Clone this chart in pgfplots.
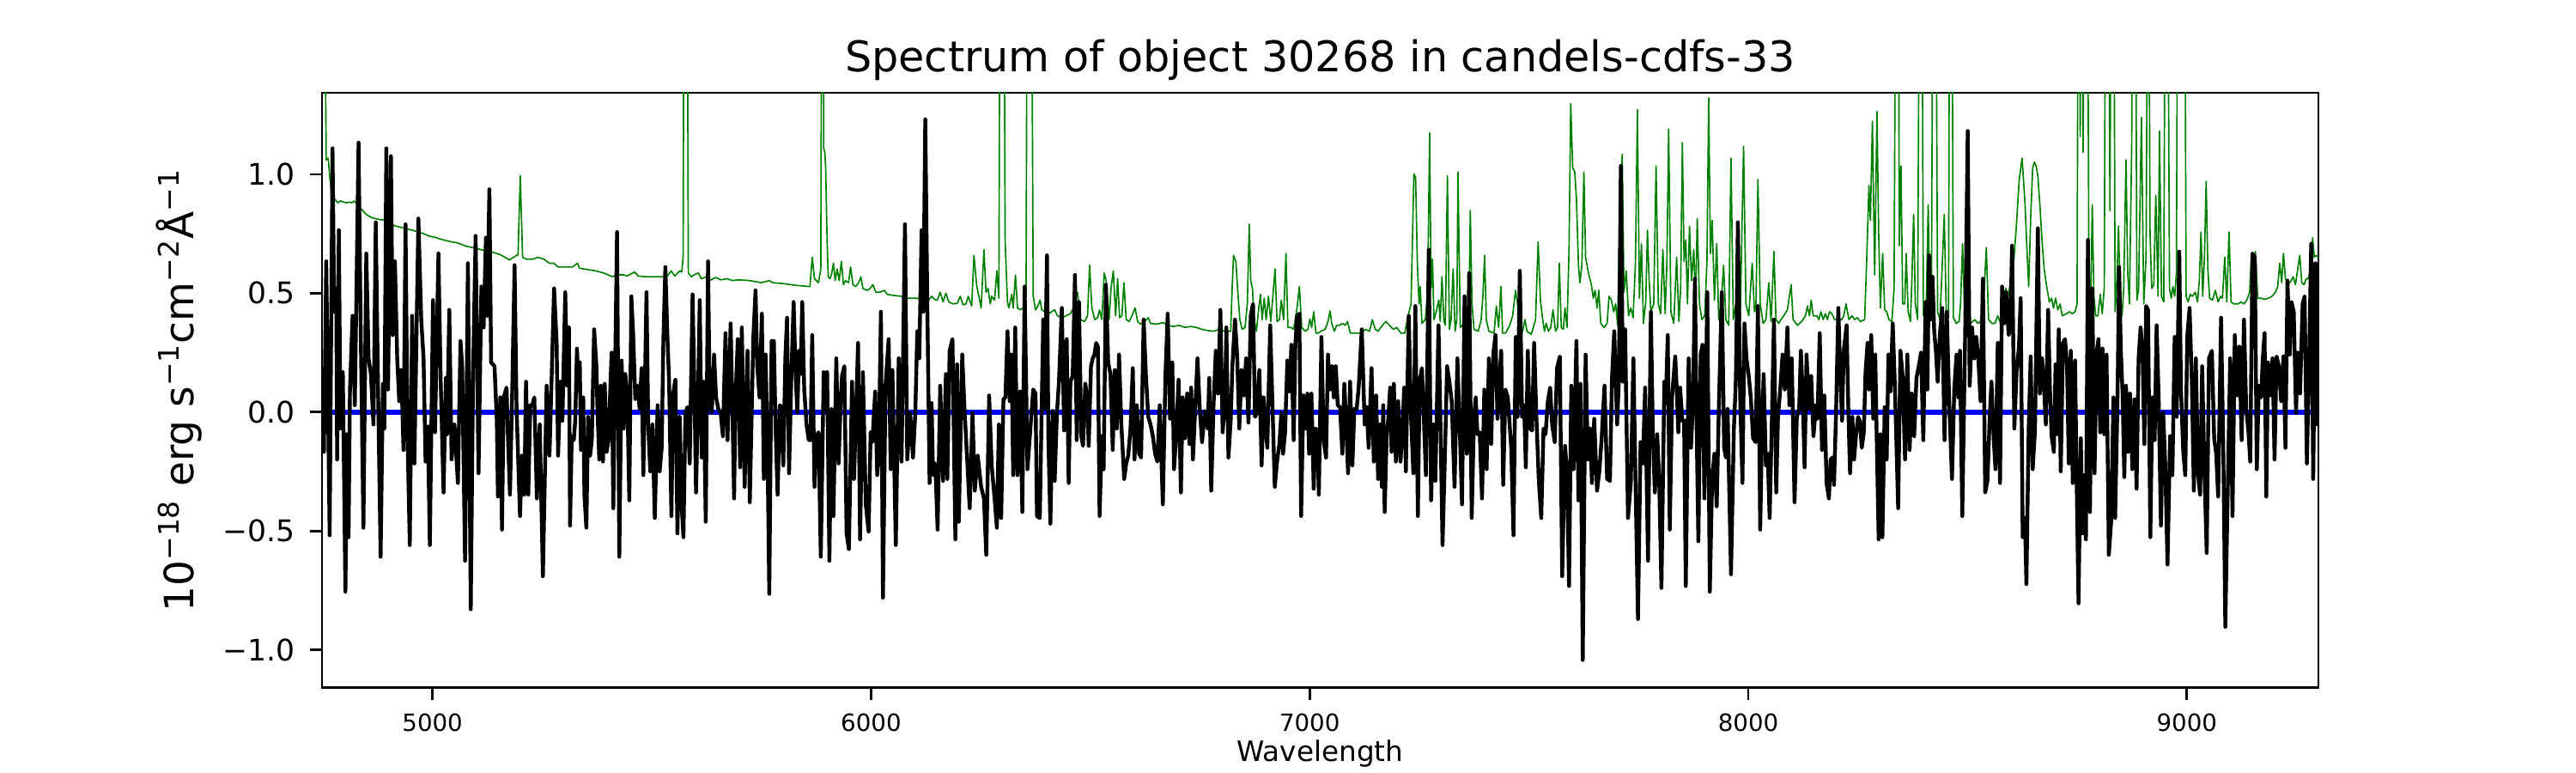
\documentclass[border=0pt]{standalone}
\usepackage{fontspec}
\setmainfont{DejaVu Sans}
\usepackage{pgfplots}
\usepackage{pgfplotstable}
\pgfplotsset{compat=1.18}
\definecolor{mplgreen}{HTML}{008000}
\definecolor{mplblue}{HTML}{0000FF}

\pgfplotstableread{
lam f
4750.5 0.00
4752.6 -0.167
4757.8 0.634
4765.6 -0.518
4772.1 1.109
4776.0 0.422
4780.6 0.520
4782.6 -0.199
4786.5 0.765
4790.3 -0.069
4795.6 0.168
4801.5 -0.755
4805.4 -0.093
4808.7 -0.526
4811.9 0.095
4817.8 0.405
4823.0 0.029
4831.5 1.133
4836.1 0.389
4842.6 -0.486
4849.1 0.667
4854.4 0.226
4859.6 0.160
4865.5 -0.052
4870.7 0.798
4875.2 0.193
4881.8 -0.608
4887.0 0.119
4890.3 -0.069
4894.8 1.109
4898.7 0.095
4905.3 1.076
4909.2 0.324
4914.4 0.634
4919.6 0.226
4924.2 0.046
4928.8 0.177
4934.0 -0.159
4938.6 0.790
4943.1 -0.101
4948.3 -0.559
4953.6 0.405
4958.8 -0.216
4967.9 0.814
4974.4 0.389
4979.7 0.226
4984.2 -0.208
4989.5 -0.060
4994.0 -0.559
5001.2 0.471
5005.8 -0.085
5013.6 0.667
5018.8 0.128
5025.3 -0.338
5030.6 0.144
5033.2 -0.093
5038.4 0.430
5043.6 -0.199
5050.1 -0.052
5058.0 -0.298
5063.9 0.299
5067.8 0.193
5074.3 -0.625
5080.8 0.626
5087.3 -0.829
5092.6 0.168
5098.4 0.741
5105.0 -0.257
5111.5 0.528
5116.7 0.356
5121.9 0.733
5124.5 0.405
5129.8 0.937
5133.7 0.209
5141.5 0.193
5146.7 -0.036
5149.3 -0.355
5154.6 0.062
5158.5 -0.494
5162.4 0.062
5168.9 0.103
5172.2 -0.110
5176.7 -0.347
5182.0 0.103
5187.2 0.618
5191.8 0.013
5199.6 -0.437
5204.2 -0.183
5209.4 -0.347
5213.3 0.128
5218.5 -0.347
5223.1 0.029
5227.6 0.029
5232.2 0.062
5238.1 -0.363
5244.6 -0.052
5251.8 -0.690
5260.3 0.111
5266.8 -0.183
5277.3 0.520
5283.1 0.291
5286.4 -0.183
5291.6 0.128
5296.2 -0.036
5302.7 0.504
5307.3 0.111
5311.2 0.356
5313.7 -0.477
5317.6 -0.101
5322.2 -0.118
5325.5 -0.036
5329.4 0.267
5333.3 0.095
5335.9 0.209
5338.5 -0.159
5343.8 0.062
5346.4 -0.347
5350.9 -0.486
5354.8 -0.020
5359.4 -0.183
5363.3 -0.118
5368.6 0.348
5373.8 0.193
5376.4 -0.003
5380.3 -0.199
5384.2 0.111
5388.8 -0.208
5392.7 0.119
5397.3 -0.167
5401.2 -0.118
5405.1 0.078
5408.4 0.250
5412.3 -0.404
5416.8 0.226
5420.8 0.757
5426.0 -0.608
5431.2 0.217
5435.8 -0.069
5439.7 0.160
5444.2 0.078
5448.8 -0.371
5453.4 0.487
5457.3 0.340
5462.5 0.054
5467.7 0.111
5472.3 0.013
5476.9 0.185
5480.8 -0.265
5488.0 0.504
5491.9 -0.052
5496.5 -0.249
5501.7 -0.052
5506.9 -0.445
5513.4 0.029
5518.0 -0.249
5522.6 -0.150
5526.5 0.307
5531.0 0.610
5535.6 0.324
5539.5 0.128
5544.8 -0.437
5548.7 0.078
5553.9 0.136
5558.5 -0.510
5563.7 -0.020
5568.3 -0.396
5572.2 -0.526
5576.7 -0.003
5581.3 0.021
5586.5 -0.216
5593.0 0.495
5597.6 0.062
5600.9 -0.338
5604.8 -0.003
5609.4 0.471
5613.9 -0.191
5617.8 0.128
5623.1 -0.461
5628.3 0.634
5632.2 0.029
5636.8 -0.003
5642.0 0.242
5646.6 0.062
5651.8 0.013
5657.0 -0.003
5662.2 -0.101
5668.1 0.332
5672.7 -0.118
5679.8 0.373
5684.4 -0.036
5687.7 -0.363
5690.9 0.062
5696.2 0.307
5701.4 -0.232
5705.3 0.356
5711.8 -0.314
5718.3 0.258
5723.5 -0.379
5731.4 0.307
5736.6 0.512
5740.5 0.193
5745.7 0.062
5751.0 0.414
5755.5 -0.281
5759.5 0.242
5763.4 -0.093
5767.9 -0.764
5773.2 0.299
5778.4 0.299
5782.3 -0.069
5786.9 -0.347
5792.1 0.029
5795.4 0.021
5799.9 -0.224
5804.5 0.226
5808.4 0.397
5813.0 -0.257
5818.2 0.144
5823.4 0.463
5828.0 0.160
5831.9 -0.003
5835.8 0.258
5839.7 0.160
5843.0 0.463
5847.6 0.095
5852.8 -0.052
5858.0 -0.118
5861.9 -0.118
5865.8 0.324
5871.0 -0.314
5875.0 -0.101
5880.2 -0.085
5885.4 -0.608
5892.0 0.168
5896.5 0.013
5899.8 0.168
5905.0 -0.625
5909.6 0.013
5914.2 -0.437
5920.7 0.226
5925.9 -0.216
5931.1 0.062
5933.7 0.152
5939.0 0.193
5944.2 -0.510
5949.4 -0.576
5956.6 0.128
5961.1 -0.281
5965.1 -0.036
5970.3 0.291
5974.9 -0.535
5981.4 0.168
5987.9 -0.388
5994.4 -0.502
5999.0 -0.085
6002.9 -0.126
6009.4 0.087
6014.0 -0.265
6017.3 -0.183
6022.5 0.422
6027.1 -0.780
6032.9 0.111
6040.1 0.307
6044.7 -0.240
6048.6 0.177
6056.4 -0.559
6063.0 0.226
6069.5 -0.208
6077.3 0.790
6082.5 -0.199
6089.1 -0.003
6095.6 -0.191
6100.8 -0.003
6105.4 0.340
6109.9 0.226
6115.2 0.765
6119.1 0.422
6123.6 1.231
6128.2 0.455
6133.4 -0.298
6138.0 0.038
6141.3 -0.265
6146.5 -0.216
6151.7 -0.494
6157.6 0.111
6164.1 -0.289
6170.6 0.160
6173.9 -0.281
6179.1 0.258
6185.6 0.307
6192.2 -0.535
6196.1 0.201
6200.0 -0.461
6207.8 0.242
6213.0 0.013
6219.6 -0.216
6224.8 -0.404
6231.3 -0.003
6236.5 -0.330
6243.1 -0.183
6250.9 -0.314
6257.4 -0.363
6262.6 -0.600
6269.2 0.070
6275.0 -0.224
6281.6 -0.363
6286.8 -0.486
6291.4 -0.052
6296.6 -0.445
6301.8 0.054
6306.4 0.062
6311.0 0.340
6316.2 0.046
6320.1 0.242
6324.0 -0.265
6328.6 0.356
6333.8 -0.265
6339.7 0.087
6344.9 -0.420
6350.1 0.528
6356.6 -0.240
6363.2 -0.069
6369.7 0.095
6374.9 0.078
6378.2 -0.437
6384.7 -0.445
6392.5 0.389
6395.8 0.013
6401.0 0.659
6404.3 -0.118
6408.8 -0.469
6414.1 0.005
6418.6 -0.289
6423.8 -0.003
6428.4 0.128
6434.9 0.438
6440.1 -0.077
6446.0 0.307
6450.5 -0.298
6454.5 0.128
6459.7 0.152
6464.9 0.577
6468.8 -0.118
6474.0 0.463
6479.3 -0.101
6483.2 -0.142
6488.4 0.119
6492.3 0.070
6496.2 -0.142
6501.4 0.193
6505.4 0.226
6509.3 0.242
6513.2 0.291
6517.1 0.275
6521.0 -0.437
6526.2 -0.101
6530.2 -0.240
6535.4 0.536
6540.6 0.209
6545.8 0.160
6551.0 -0.159
6555.6 0.177
6560.2 -0.069
6565.4 0.242
6570.6 -0.052
6577.1 -0.281
6581.7 -0.216
6586.3 -0.183
6591.5 -0.069
6596.7 0.185
6600.6 -0.199
6605.9 0.029
6611.1 -0.175
6615.6 -0.191
6621.5 0.389
6626.7 0.152
6632.0 -0.020
6637.2 -0.052
6642.4 -0.101
6647.6 -0.175
6652.8 -0.208
6658.1 0.029
6665.2 -0.388
6671.1 0.152
6676.3 0.414
6681.6 -0.028
6686.8 0.209
6690.7 -0.240
6695.9 -0.093
6701.1 0.136
6706.4 -0.338
6710.3 0.062
6715.5 -0.110
6720.7 0.078
6725.9 -0.134
6729.8 0.103
6733.8 -0.199
6739.0 0.013
6744.2 0.226
6749.4 0.013
6754.6 -0.126
6761.2 0.005
6767.7 -0.069
6771.0 0.144
6775.5 -0.330
6780.8 0.029
6786.0 0.258
6791.2 0.078
6796.4 0.430
6801.6 -0.085
6806.9 0.046
6810.1 0.356
6814.7 -0.191
6819.9 -0.036
6823.8 0.193
6829.7 0.389
6834.9 0.226
6839.5 -0.069
6844.7 0.177
6849.9 0.070
6855.1 0.226
6860.4 -0.044
6865.6 0.405
6870.8 0.455
6875.4 -0.020
6879.9 -0.003
6885.2 0.177
6890.4 -0.224
6894.9 0.062
6899.5 -0.069
6903.4 -0.150
6910.0 0.365
6915.2 0.029
6920.4 -0.314
6925.6 -0.208
6930.9 -0.134
6935.4 -0.003
6939.3 -0.175
6943.9 -0.085
6949.1 0.217
6954.3 0.087
6958.3 0.283
6963.5 -0.118
6967.4 0.283
6971.3 0.405
6976.5 0.414
6980.5 -0.437
6985.7 0.070
6990.9 -0.069
6994.8 0.078
6998.7 -0.175
7004.0 0.078
7009.2 -0.322
7013.1 -0.069
7017.0 -0.077
7020.9 -0.347
7026.8 0.316
7032.0 -0.118
7037.3 -0.191
7041.8 0.242
7045.7 0.095
7051.0 0.193
7054.9 0.062
7059.5 0.193
7064.0 0.029
7069.2 0.021
7074.5 -0.175
7079.0 0.119
7082.9 -0.036
7087.5 -0.257
7092.1 0.128
7097.3 -0.224
7101.9 0.013
7107.1 0.013
7111.7 0.103
7118.8 0.348
7125.4 -0.052
7129.9 0.021
7134.5 -0.150
7141.0 0.185
7146.2 -0.208
7151.5 0.070
7156.0 -0.281
7160.6 -0.052
7164.5 -0.314
7167.8 0.029
7171.0 -0.420
7175.6 -0.093
7178.9 -0.036
7183.4 0.103
7186.7 -0.167
7191.9 0.119
7196.5 -0.208
7201.7 0.046
7207.0 -0.208
7211.5 -0.077
7215.4 0.103
7219.3 -0.249
7225.9 0.405
7231.1 -0.020
7236.3 -0.257
7240.9 0.446
7246.7 -0.437
7250.7 0.128
7255.9 0.185
7260.5 -0.036
7265.0 -0.265
7271.5 0.683
7276.8 -0.371
7282.0 -0.052
7286.6 -0.289
7293.7 0.365
7298.3 -0.060
7302.9 -0.559
7308.1 -0.199
7313.3 0.193
7318.5 0.128
7323.8 0.046
7330.3 -0.314
7336.8 0.226
7342.0 -0.052
7347.3 -0.388
7353.1 0.487
7358.3 -0.175
7363.6 0.585
7369.4 -0.445
7374.7 -0.020
7378.6 0.062
7382.5 -0.093
7387.7 -0.085
7392.9 -0.363
7398.2 0.095
7403.4 -0.240
7408.6 0.226
7413.8 -0.134
7419.0 0.250
7423.6 0.324
7428.2 -0.028
7432.1 0.111
7436.6 0.258
7441.2 -0.306
7446.4 0.095
7451.7 0.062
7455.6 -0.044
7459.5 -0.150
7464.7 -0.518
7469.9 0.316
7473.9 -0.020
7479.1 0.594
7484.3 -0.020
7488.9 0.029
7492.8 -0.232
7497.3 0.258
7501.9 -0.069
7507.1 -0.077
7511.7 0.291
7516.9 -0.020
7522.2 -0.281
7528.0 -0.445
7533.2 -0.069
7537.8 -0.093
7543.0 0.046
7548.3 0.103
7552.8 -0.052
7558.7 -0.126
7563.9 0.185
7570.4 0.234
7575.7 -0.690
7582.1 -0.142
7586.7 -0.249
7591.3 -0.731
7596.5 0.111
7601.7 -0.240
7608.2 0.299
7612.8 -0.371
7617.4 0.119
7622.6 -1.042
7629.1 0.242
7634.3 -0.199
7639.5 -0.069
7643.5 -0.298
7648.7 -0.028
7655.2 -0.330
7660.4 -0.249
7665.7 -0.110
7672.2 0.111
7678.1 -0.281
7684.6 -0.289
7689.1 0.136
7694.4 0.340
7700.9 -0.052
7704.8 0.128
7709.4 1.035
7713.9 0.128
7719.2 0.348
7725.7 -0.445
7732.2 -0.298
7738.1 0.226
7743.3 -0.330
7748.5 -0.870
7754.4 -0.126
7759.6 -0.216
7764.8 0.103
7771.4 -0.625
7777.9 0.422
7782.5 -0.101
7787.0 -0.338
7792.3 -0.093
7796.8 -0.281
7802.0 -0.739
7808.6 0.128
7811.8 0.038
7816.4 0.324
7821.0 -0.494
7826.2 0.062
7833.4 0.234
7836.6 0.111
7840.5 -0.085
7844.5 0.103
7849.7 -0.036
7853.6 -0.036
7857.5 -0.731
7864.0 0.226
7869.3 -0.150
7873.8 0.029
7878.4 0.561
7882.3 -0.069
7886.2 -0.543
7891.5 0.242
7895.4 0.283
7899.9 -0.363
7906.5 0.504
7912.3 -0.755
7917.6 -0.281
7922.8 -0.175
7928.0 -0.396
7933.2 0.046
7939.7 0.504
7945.0 -0.150
7948.9 -0.191
7952.8 0.013
7960.6 -0.682
7967.2 -0.069
7971.7 0.136
7976.3 0.798
7981.5 0.062
7986.7 -0.298
7991.3 0.373
7995.9 0.226
8001.1 0.152
8005.7 0.062
8010.9 -0.110
8016.8 -0.126
8022.0 0.446
8027.2 -0.494
8031.1 -0.101
8035.0 0.160
8040.2 -0.224
8044.2 -0.175
8048.7 -0.445
8053.3 -0.069
8058.5 0.389
8063.7 -0.338
8067.7 -0.020
8072.9 0.095
8078.1 0.242
8083.3 0.095
8089.2 0.356
8093.8 0.029
8099.0 0.226
8105.5 -0.379
8110.7 -0.020
8116.0 0.013
8119.9 0.258
8123.8 0.095
8128.3 -0.232
8132.9 0.242
8138.1 0.013
8143.4 0.152
8148.6 -0.101
8154.4 0.029
8157.7 -0.028
8162.9 0.332
8168.1 -0.159
8173.3 0.070
8178.5 -0.298
8183.8 -0.363
8187.7 -0.199
8191.6 -0.191
8195.5 -0.306
8200.1 -0.003
8205.3 0.438
8209.9 0.152
8213.8 -0.036
8217.7 0.258
8224.2 0.365
8228.1 0.013
8232.0 -0.257
8237.3 -0.020
8241.2 -0.199
8245.8 -0.093
8250.3 -0.020
8254.2 -0.036
8258.8 -0.150
8263.4 -0.085
8267.3 0.168
8271.9 0.291
8275.1 0.095
8280.3 0.324
8284.9 -0.028
8289.5 0.242
8293.4 -0.167
8297.3 -0.535
8301.2 -0.093
8305.8 -0.526
8311.0 0.021
8315.6 -0.199
8319.5 0.242
8324.1 0.087
8329.3 0.373
8333.9 0.128
8337.8 -0.134
8341.7 -0.404
8346.9 0.258
8352.1 0.144
8357.4 -0.199
8362.6 0.242
8367.8 -0.159
8373.0 0.078
8378.2 -0.101
8383.5 0.144
8388.7 0.193
8393.9 0.250
8399.1 -0.118
8404.3 0.463
8408.3 0.095
8412.2 0.659
8416.1 0.389
8420.0 0.569
8423.9 0.340
8427.8 0.258
8431.7 0.128
8437.0 0.332
8442.2 0.438
8447.4 -0.118
8452.6 0.422
8457.8 0.062
8464.4 -0.281
8469.6 0.095
8474.8 0.242
8478.7 0.062
8482.6 0.258
8487.9 -0.437
8494.4 0.324
8500.3 1.182
8504.8 0.111
8510.1 0.356
8515.3 0.226
8519.8 0.316
8524.4 0.226
8529.6 0.046
8534.9 0.561
8540.1 -0.338
8545.3 -0.289
8550.5 -0.020
8554.4 0.128
8559.7 -0.118
8563.6 -0.240
8568.8 0.291
8574.0 -0.298
8578.6 0.528
8583.1 0.373
8588.4 0.504
8593.6 0.324
8597.5 0.356
8601.4 0.700
8606.6 -0.069
8611.9 0.177
8617.1 0.275
8621.0 0.479
8625.6 -0.526
8630.8 -0.445
8634.1 -0.723
8639.3 -0.069
8643.8 0.234
8648.4 -0.240
8653.6 -0.077
8660.2 0.773
8664.7 0.078
8669.9 0.226
8674.5 0.095
8678.4 -0.052
8683.6 0.430
8687.6 0.111
8691.5 -0.101
8696.7 -0.167
8700.6 0.201
8704.5 -0.093
8707.8 0.348
8712.4 -0.249
8717.6 0.291
8722.2 0.307
8726.8 0.193
8730.7 -0.216
8735.2 0.258
8739.8 -0.298
8745.0 0.217
8748.9 -0.314
8752.9 -0.804
8758.1 -0.110
8762.0 -0.510
8765.9 -0.265
8769.8 -0.535
8774.4 0.724
8779.0 -0.420
8784.2 0.520
8789.4 -0.257
8794.6 0.258
8798.5 0.307
8802.5 -0.085
8807.7 0.267
8811.6 -0.093
8816.8 0.242
8822.0 -0.600
8827.3 -0.461
8832.5 0.062
8836.4 -0.445
8841.6 0.029
8845.5 0.610
8849.4 0.258
8853.4 0.078
8857.3 -0.273
8861.2 0.111
8865.8 -0.167
8870.3 0.078
8875.6 -0.240
8880.8 0.054
8885.3 -0.322
8889.9 0.226
8894.5 0.356
8899.0 0.242
8903.0 -0.134
8906.9 0.446
8911.4 0.430
8916.7 -0.526
8921.2 0.062
8926.5 -0.118
8931.0 0.365
8935.6 0.062
8940.8 -0.477
8946.0 -0.003
8950.6 -0.216
8955.8 -0.641
8961.7 -0.101
8966.9 -0.265
8972.1 0.316
8976.7 -0.020
8982.6 0.675
8986.5 0.095
8991.7 -0.167
8996.3 -0.265
9000.8 0.316
9006.1 0.438
9011.3 0.128
9015.9 -0.330
9020.4 0.226
9025.6 -0.265
9030.2 -0.347
9034.8 0.193
9040.0 -0.249
9045.2 -0.592
9050.4 0.226
9057.0 0.258
9062.2 -0.110
9066.8 -0.175
9071.3 -0.355
9077.9 0.397
9083.1 -0.167
9087.6 -0.903
9093.5 -0.289
9098.7 0.226
9104.0 -0.437
9109.2 0.324
9114.4 0.070
9119.6 0.275
9124.8 -0.118
9130.1 0.389
9135.3 0.013
9140.5 -0.085
9144.4 -0.208
9149.6 0.667
9154.9 0.651
9159.4 -0.240
9164.0 0.111
9169.2 0.062
9173.1 0.226
9177.1 0.332
9181.0 -0.355
9184.9 0.209
9190.1 0.070
9195.3 0.226
9199.9 -0.199
9204.5 0.234
9209.7 0.193
9214.9 0.046
9220.1 0.234
9224.7 -0.150
9229.3 0.553
9234.5 0.242
9238.4 0.463
9243.6 0.422
9248.8 -0.003
9252.8 0.250
9258.0 0.078
9263.9 0.455
9268.4 0.487
9273.6 -0.216
9278.9 0.242
9283.4 0.708
9288.0 -0.281
9293.2 0.626
9297.1 -0.052
9299.9 0.300
}\fluxtab

\pgfplotstableread{
lam f
4751.3 2.5
4757.8 1.060
4762.3 1.068
4765.6 0.994
4770.8 0.904
4777.4 0.896
4783.9 0.880
4790.4 0.888
4796.9 0.883
4803.5 0.880
4811.3 0.883
4816.5 0.880
4821.7 0.888
4829.6 0.871
4839.4 0.850
4849.1 0.831
4858.9 0.820
4868.7 0.814
4878.5 0.810
4888.3 0.808
4901.4 0.796
4914.4 0.783
4927.5 0.777
4940.5 0.771
4953.6 0.765
4966.6 0.758
4979.7 0.750
4992.7 0.740
5005.8 0.735
5018.8 0.727
5038.4 0.718
5058.0 0.711
5077.6 0.697
5097.1 0.690
5116.7 0.680
5136.3 0.673
5155.9 0.661
5175.4 0.640
5188.5 0.655
5195.0 0.661
5200.2 0.994
5205.5 0.651
5214.6 0.643
5227.6 0.643
5240.7 0.651
5253.8 0.643
5266.8 0.626
5276.6 0.626
5286.4 0.610
5306.0 0.610
5319.0 0.610
5330.7 0.626
5335.3 0.605
5345.1 0.602
5358.1 0.598
5371.2 0.594
5390.7 0.585
5410.3 0.569
5420.1 0.577
5436.4 0.577
5442.9 0.572
5461.2 0.589
5469.1 0.572
5488.6 0.569
5508.2 0.569
5527.8 0.569
5535.6 0.572
5544.1 0.594
5552.6 0.572
5563.7 0.594
5568.3 0.589
5571.5 0.651
5574.1 2.5
5580.0 2.5
5583.3 0.585
5589.8 0.569
5596.3 0.577
5606.1 0.585
5612.6 0.561
5625.7 0.569
5632.2 0.553
5645.3 0.566
5658.3 0.556
5671.4 0.561
5684.4 0.553
5697.5 0.556
5723.5 0.553
5749.7 0.544
5767.9 0.553
5775.8 0.544
5801.9 0.540
5828.0 0.533
5860.6 0.528
5865.8 0.651
5871.0 0.561
5880.2 0.544
5885.4 0.602
5888.1 2.5
5890.7 2.5
5892.0 1.109
5894.6 1.092
5896.5 1.027
5899.8 0.716
5902.4 0.569
5906.3 0.561
5909.6 0.577
5914.2 0.626
5918.1 0.553
5922.6 0.602
5927.2 0.553
5932.4 0.634
5937.0 0.536
5942.2 0.553
5948.7 0.544
5953.3 0.610
5958.5 0.536
5965.1 0.528
5971.6 0.544
5976.8 0.569
5981.4 0.520
5991.2 0.512
5997.7 0.520
6004.2 0.536
6010.7 0.504
6020.5 0.504
6030.3 0.512
6036.9 0.495
6049.9 0.491
6069.5 0.487
6082.5 0.479
6095.6 0.479
6105.4 0.479
6118.4 0.471
6131.5 0.471
6138.0 0.487
6144.5 0.474
6151.1 0.471
6157.6 0.504
6164.1 0.463
6170.6 0.500
6177.2 0.463
6186.9 0.455
6196.7 0.458
6203.3 0.487
6209.8 0.451
6216.3 0.455
6221.5 0.487
6229.4 0.446
6234.6 0.659
6240.5 0.536
6245.7 0.487
6250.9 0.438
6257.4 0.683
6262.0 0.504
6266.6 0.520
6271.8 0.455
6275.0 0.487
6281.6 0.471
6286.8 0.594
6291.4 0.479
6294.6 2.5
6301.8 2.5
6305.7 0.716
6311.0 0.463
6314.2 0.438
6320.7 0.495
6324.0 0.438
6329.2 0.577
6333.8 0.438
6340.3 0.430
6346.8 0.438
6353.4 0.487
6356.6 2.5
6364.5 2.5
6369.7 0.487
6374.9 0.430
6380.1 0.446
6385.3 0.471
6389.3 0.430
6395.8 0.422
6405.6 0.414
6414.1 0.425
6418.6 0.430
6425.1 0.405
6434.9 0.397
6444.4 0.405
6454.5 0.414
6461.0 0.438
6467.5 0.487
6470.8 0.504
6477.3 0.389
6487.1 0.381
6493.6 0.405
6498.2 0.618
6503.4 0.438
6509.9 0.389
6516.5 0.397
6521.0 0.430
6526.2 0.389
6531.5 0.585
6536.0 0.553
6542.6 0.389
6547.1 0.520
6552.3 0.594
6557.6 0.405
6562.1 0.561
6566.7 0.397
6571.9 0.405
6576.5 0.544
6581.7 0.389
6588.2 0.381
6594.8 0.405
6601.9 0.438
6607.8 0.381
6614.3 0.370
6624.1 0.381
6632.0 0.397
6637.2 0.373
6650.2 0.370
6666.5 0.376
6676.3 0.365
6689.4 0.360
6702.4 0.365
6715.5 0.356
6728.5 0.360
6741.6 0.356
6754.6 0.348
6767.7 0.343
6780.8 0.340
6793.8 0.348
6806.9 0.340
6819.9 0.340
6823.2 0.520
6826.4 0.659
6831.7 0.634
6836.2 0.504
6840.8 0.389
6846.0 0.348
6852.5 0.356
6857.8 0.455
6862.3 0.790
6865.6 0.553
6869.5 0.520
6873.4 0.389
6878.6 0.340
6883.9 0.438
6887.8 0.495
6891.7 0.389
6896.3 0.479
6900.8 0.389
6906.1 0.487
6911.3 0.381
6915.8 0.479
6921.1 0.602
6925.6 0.381
6930.9 0.389
6935.4 0.471
6940.6 0.389
6945.9 0.667
6950.4 0.356
6957.0 0.356
6963.5 0.348
6971.3 0.438
6976.5 0.528
6981.8 0.356
6989.6 0.340
6996.1 0.348
7000.7 0.392
7004.6 0.356
7009.2 0.422
7014.4 0.332
7019.0 0.332
7025.5 0.340
7035.3 0.348
7041.8 0.381
7046.4 0.425
7050.3 0.373
7056.2 0.340
7061.4 0.365
7067.9 0.365
7074.5 0.373
7081.0 0.365
7086.2 0.381
7092.7 0.332
7100.6 0.332
7116.9 0.332
7126.7 0.348
7136.5 0.340
7143.0 0.389
7149.5 0.348
7156.0 0.340
7165.8 0.365
7173.7 0.381
7182.1 0.365
7190.6 0.348
7198.5 0.356
7208.2 0.332
7216.7 0.332
7223.3 0.397
7231.1 0.455
7237.6 1.002
7241.5 0.986
7245.4 0.634
7249.4 0.455
7252.0 0.528
7255.9 0.373
7263.7 0.389
7268.9 0.504
7273.5 1.174
7276.8 0.520
7280.0 0.643
7283.3 0.389
7288.5 0.422
7294.4 0.471
7297.6 0.381
7301.6 0.569
7306.1 0.381
7309.4 0.365
7314.0 0.994
7318.5 0.348
7322.4 0.389
7327.0 0.602
7331.6 0.340
7335.5 0.389
7338.1 1.010
7343.3 0.356
7348.6 0.365
7353.8 0.479
7359.0 0.389
7362.9 0.389
7366.2 0.847
7370.1 0.455
7374.7 0.348
7384.4 0.340
7391.0 0.389
7394.9 0.487
7398.8 0.659
7402.7 0.389
7408.6 0.340
7420.3 0.332
7425.6 0.446
7430.8 0.356
7436.0 0.528
7439.9 0.332
7446.4 0.332
7456.2 0.365
7462.8 0.405
7469.3 0.512
7473.9 0.455
7479.1 0.348
7485.6 0.340
7490.8 0.389
7495.4 0.340
7505.2 0.327
7515.0 0.389
7520.8 0.716
7526.1 0.471
7531.3 0.389
7535.2 0.340
7539.1 0.373
7544.3 0.340
7549.6 0.356
7554.8 0.430
7560.6 0.340
7565.2 0.356
7569.1 0.626
7573.7 0.356
7578.3 0.348
7582.1 0.438
7586.7 0.356
7591.3 0.683
7595.2 1.297
7599.7 1.027
7604.3 1.010
7608.2 0.896
7612.8 0.618
7616.1 0.544
7620.6 0.618
7625.2 1.010
7629.1 0.651
7635.6 0.585
7642.2 0.536
7646.7 0.479
7650.6 0.512
7655.2 0.438
7659.1 0.512
7663.7 0.373
7671.5 0.356
7678.1 0.373
7682.6 0.487
7687.8 0.471
7693.1 0.422
7697.6 0.455
7702.2 0.365
7707.4 0.880
7712.6 1.084
7716.6 0.504
7721.8 0.594
7727.0 0.405
7732.2 0.438
7737.4 0.397
7742.7 0.626
7747.2 1.272
7751.8 0.479
7756.4 0.708
7760.9 0.373
7766.2 0.463
7770.1 0.765
7774.0 0.553
7777.9 0.422
7784.4 0.455
7789.7 1.035
7794.9 0.455
7800.1 0.414
7805.3 0.683
7810.5 0.414
7814.5 0.634
7818.4 1.190
7823.6 0.422
7830.1 0.373
7836.6 0.651
7841.9 0.381
7845.8 0.520
7849.7 1.133
7853.6 0.634
7857.5 0.724
7861.4 0.455
7866.0 0.782
7870.6 0.553
7875.8 0.683
7879.7 0.446
7883.6 0.814
7888.8 0.455
7894.1 0.389
7900.6 0.405
7905.8 0.634
7909.7 1.321
7913.6 0.667
7917.6 0.806
7922.8 0.471
7928.0 0.708
7932.6 0.389
7938.4 0.455
7943.7 0.618
7948.9 0.389
7955.4 0.365
7960.6 1.068
7965.8 0.389
7971.7 0.455
7976.3 0.487
7981.5 0.381
7989.3 1.117
7994.6 0.455
8001.1 0.405
8008.9 0.626
8014.1 0.422
8017.4 0.438
8022.0 0.978
8027.2 0.455
8033.7 0.373
8040.2 0.389
8046.8 0.544
8052.0 0.381
8058.5 0.675
8063.1 0.389
8069.6 0.373
8074.2 0.389
8080.7 0.405
8089.2 0.430
8097.7 0.536
8102.2 0.389
8112.0 0.365
8121.8 0.381
8130.3 0.405
8134.9 0.446
8139.4 0.405
8143.4 0.471
8148.0 0.405
8156.3 0.405
8160.9 0.389
8165.5 0.422
8170.7 0.389
8175.9 0.414
8180.5 0.389
8185.1 0.422
8190.3 0.414
8196.8 0.389
8204.6 0.389
8213.1 0.389
8217.7 0.405
8222.9 0.455
8229.4 0.389
8236.0 0.405
8242.5 0.389
8249.0 0.397
8255.5 0.381
8265.3 0.389
8269.9 0.634
8275.1 0.953
8278.4 0.806
8283.0 1.223
8288.2 0.577
8293.4 1.264
8297.3 0.749
8301.2 0.438
8306.4 0.667
8311.0 0.430
8315.6 0.422
8320.8 0.389
8327.3 0.381
8332.5 0.520
8337.1 2.5
8341.7 2.5
8344.3 0.700
8348.2 1.035
8352.1 0.455
8356.7 0.455
8360.0 0.667
8364.5 0.422
8369.7 0.381
8373.0 0.553
8377.0 0.831
8380.8 0.455
8386.1 0.389
8391.3 2.5
8395.2 2.5
8399.1 0.405
8405.6 0.438
8410.2 0.871
8413.5 0.487
8417.4 0.389
8422.0 2.5
8426.5 2.5
8431.7 0.422
8437.0 0.389
8441.5 0.585
8446.8 0.831
8451.3 0.422
8456.5 0.397
8459.8 2.5
8463.1 2.5
8467.6 0.397
8474.2 0.373
8480.7 0.381
8484.0 0.455
8488.5 0.708
8493.7 0.389
8500.3 0.389
8506.8 0.373
8516.6 0.389
8523.1 0.373
8529.6 0.381
8536.2 0.455
8542.7 0.692
8547.9 0.389
8555.7 0.373
8562.3 0.373
8568.8 0.405
8575.3 0.373
8581.8 0.487
8587.1 0.520
8592.3 0.479
8598.2 0.553
8604.7 0.618
8611.2 0.782
8617.7 0.978
8624.3 1.068
8630.8 0.880
8635.4 0.683
8639.3 0.528
8643.8 0.814
8648.4 1.027
8652.3 1.051
8656.2 1.035
8660.2 0.994
8665.4 0.855
8669.9 0.716
8674.5 0.602
8679.7 0.536
8686.3 0.463
8691.5 0.479
8696.0 0.438
8700.6 0.479
8705.8 0.430
8711.1 0.455
8715.7 0.405
8725.5 0.414
8732.0 0.422
8738.5 0.414
8745.0 0.422
8749.6 0.455
8752.9 2.5
8756.8 1.158
8759.4 2.5
8763.3 1.092
8767.2 2.5
8772.4 2.5
8776.4 0.667
8780.3 0.389
8784.2 0.871
8788.1 0.487
8792.0 0.405
8797.2 0.405
8802.5 0.495
8807.0 0.414
8811.6 0.520
8815.5 2.5
8820.7 2.5
8824.6 0.847
8828.6 2.5
8832.5 2.5
8836.4 0.422
8840.3 0.553
8844.2 0.782
8848.1 0.455
8852.1 0.405
8856.0 0.520
8861.2 1.060
8865.1 0.585
8869.0 0.455
8874.2 1.125
8878.2 2.5
8882.1 2.5
8886.0 0.471
8889.9 0.520
8896.4 1.239
8901.7 0.455
8906.9 0.651
8912.1 2.5
8916.0 0.749
8919.9 0.520
8924.5 0.536
8929.1 0.912
8934.3 0.487
8937.5 1.182
8942.1 0.487
8947.3 0.463
8951.3 2.5
8955.2 2.5
8960.4 0.520
8964.3 0.479
8968.2 0.528
8972.1 0.487
8976.1 0.585
8980.0 2.5
8985.2 2.5
8989.8 2.5
8994.3 2.5
8998.2 0.487
9002.8 0.463
9007.4 0.495
9012.6 0.487
9019.1 0.504
9024.3 0.463
9028.3 0.553
9032.2 0.757
9036.1 0.487
9040.0 0.651
9043.9 0.970
9047.8 0.602
9051.8 0.479
9058.3 0.471
9064.8 0.512
9071.3 0.463
9076.5 0.487
9081.1 0.479
9086.3 0.651
9090.9 0.463
9096.1 0.757
9100.7 0.463
9107.2 0.455
9117.0 0.455
9123.5 0.463
9130.1 0.455
9136.6 0.471
9143.1 0.504
9146.4 0.634
9151.0 0.487
9156.2 0.675
9161.4 0.479
9169.2 0.479
9177.1 0.474
9185.5 0.479
9194.0 0.487
9201.9 0.504
9207.1 0.528
9211.6 0.626
9216.2 0.544
9220.1 0.667
9224.7 0.561
9231.2 0.536
9237.7 0.553
9242.3 0.569
9247.5 0.536
9252.8 0.602
9257.3 0.659
9261.9 0.544
9267.1 0.536
9272.3 0.561
9276.9 0.561
9281.5 0.602
9286.7 0.733
9290.6 0.651
9294.5 0.659
9299.7 0.651
}\skytab

\begin{document}
\begin{tikzpicture}
\useasboundingbox (-135.5pt,-35.8pt) rectangle (948.7pt,289.4pt);
\begin{axis}[
  at={(0pt,0pt)}, anchor=south west,
  scale only axis, width=840.3pt, height=250.4pt,
  xmin=4748, xmax=9300, ymin=-1.159, ymax=1.343,
  xtick={5000,6000,7000,8000,9000},
  xticklabels={5000,6000,7000,8000,9000},
  ytick={-1,-0.5,0,0.5,1},
  yticklabels={−1.0,−0.5,0.0,0.5,1.0},
  minor tick num=0,
  tick align=outside, tick pos=left,
  major tick length=5pt,
  every tick/.style={black, line width=1pt},
  axis line style={line width=1pt},
  xticklabel style={font=\fontsize{10}{12}\selectfont, anchor=base, inner sep=0pt, yshift=-13.3pt},
  yticklabel style={font=\fontsize{12.5}{15}\selectfont, anchor=east, inner sep=0pt, xshift=-6.2pt},
  xlabel={Wavelength},
  xlabel style={font=\fontsize{11.8}{14}\selectfont, at={(axis description cs:0.5,-0.1238)}, anchor=base, inner sep=0pt},
  ylabel={10\textsuperscript{−18} erg s\textsuperscript{−1}cm\textsuperscript{−2}Å\textsuperscript{−1}},
  ylabel style={font=\fontsize{17}{20}\selectfont, at={(axis description cs:-0.0641,0.5)}, anchor=base, inner sep=0pt},
  title={Spectrum of object 30268 in candels-cdfs-33},
  every axis title shift=0pt,
  title style={font=\fontsize{17.8}{21}\selectfont, at={(axis description cs:0.5,1.0359)}, anchor=base, inner sep=0pt},
  clip=true,
]
\addplot[mplblue, line width=2.2pt] coordinates {(4750,0) (9285,0)};
\addplot[mplgreen, line width=0.6pt, line join=round] table[x=lam,y=f]{\skytab};
\addplot[black, line width=1.6pt, line join=round] table[x=lam,y=f]{\fluxtab};
\end{axis}
\end{tikzpicture}
\end{document}
